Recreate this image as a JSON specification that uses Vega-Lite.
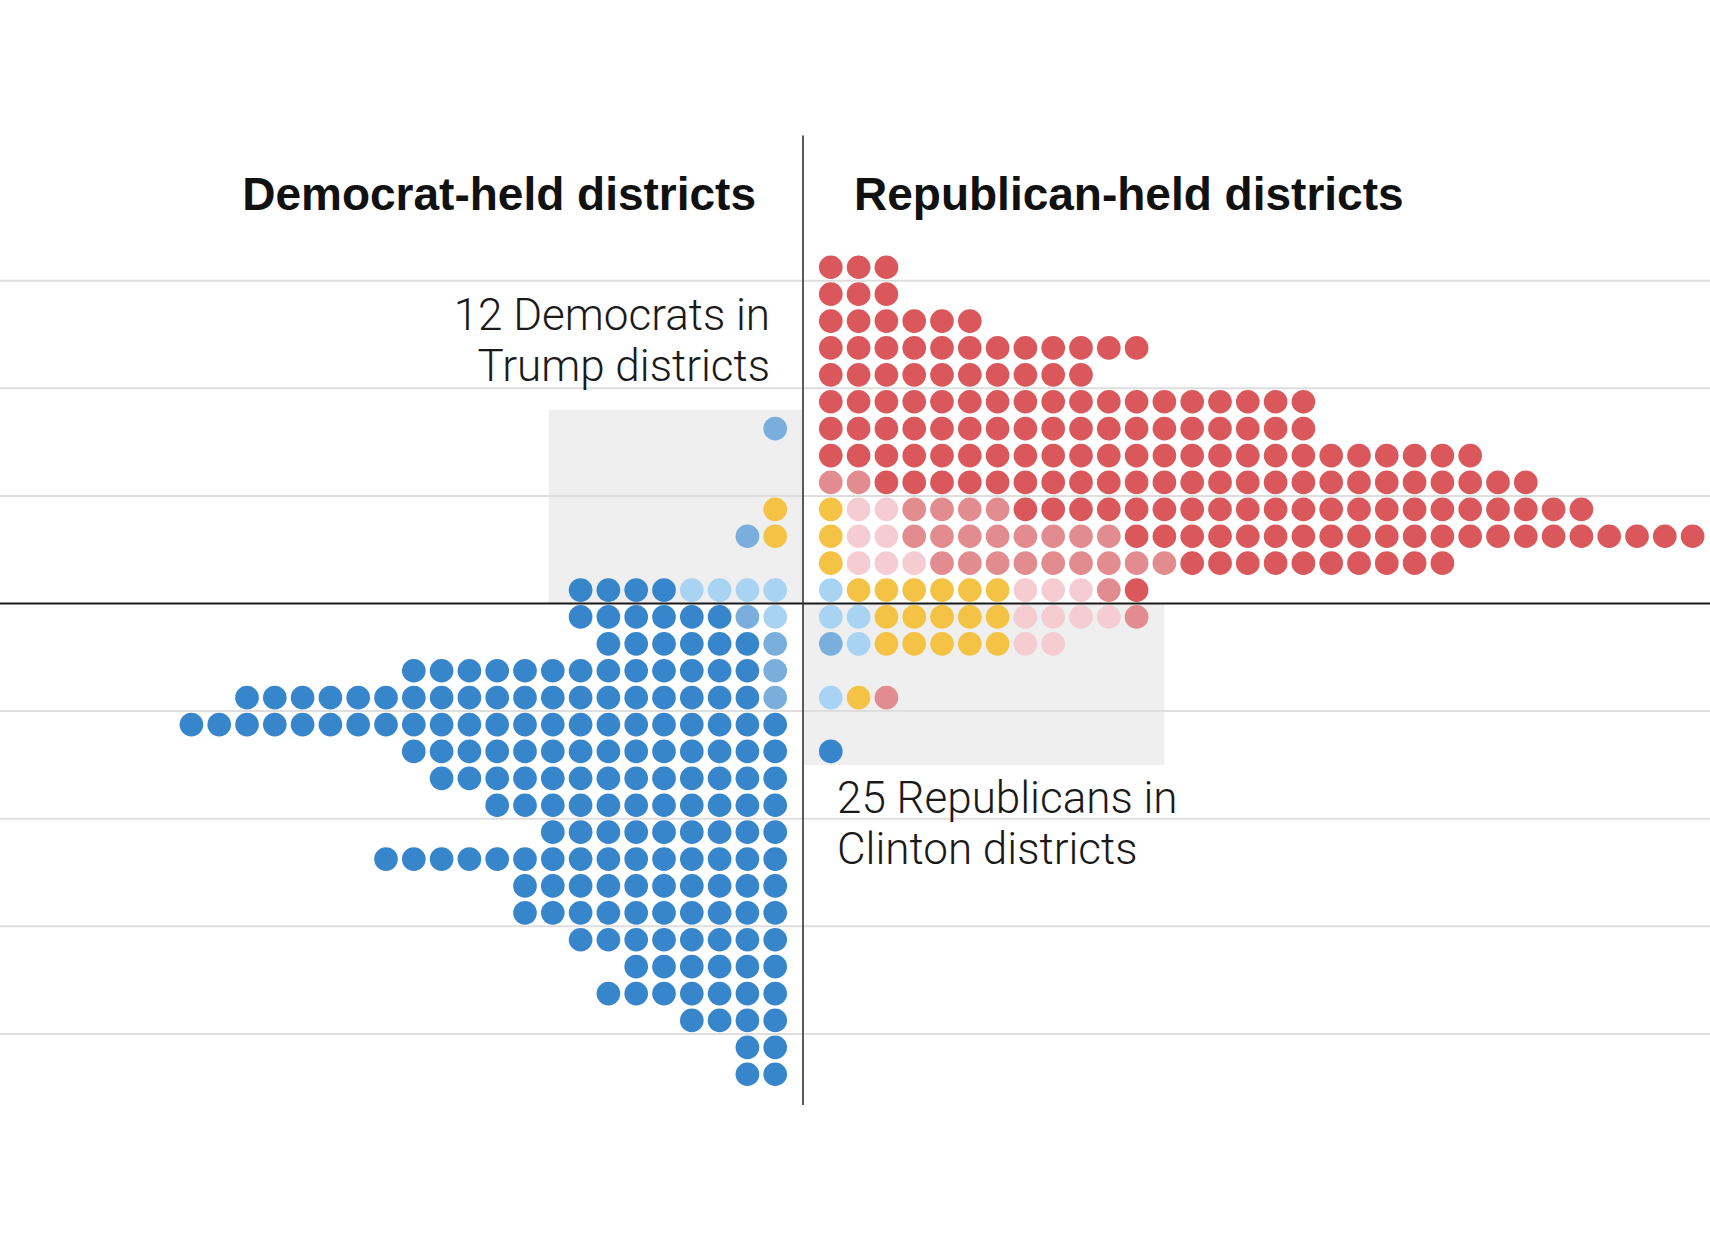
{
"$schema":"https://vega.github.io/schema/vega-lite/v6.json",
"width":1710,"height":1248,"autosize":{"type":"none"},"padding":0,"background":"white",
"config":{"view":{"stroke":null}},
"datasets":{
"one":[{}],
"boxes":[{"x1":-9.15,"x2":0,"y1":0,"y2":18},{"x1":0,"x2":13,"y1":0,"y2":-15}],
"grid":[{"g":30},{"g":20},{"g":10},{"g":-10},{"g":-20},{"g":-30},{"g":-40}],
"dots":[
{"m":31.25,"c":1,"r":"SR"},{"m":31.25,"c":2,"r":"SR"},{"m":31.25,"c":3,"r":"SR"},
{"m":28.75,"c":1,"r":"SR"},{"m":28.75,"c":2,"r":"SR"},{"m":28.75,"c":3,"r":"SR"},
{"m":26.25,"c":1,"r":"SR"},{"m":26.25,"c":2,"r":"SR"},{"m":26.25,"c":3,"r":"SR"},{"m":26.25,"c":4,"r":"SR"},{"m":26.25,"c":5,"r":"SR"},{"m":26.25,"c":6,"r":"SR"},
{"m":23.75,"c":1,"r":"SR"},{"m":23.75,"c":2,"r":"SR"},{"m":23.75,"c":3,"r":"SR"},{"m":23.75,"c":4,"r":"SR"},{"m":23.75,"c":5,"r":"SR"},{"m":23.75,"c":6,"r":"SR"},{"m":23.75,"c":7,"r":"SR"},{"m":23.75,"c":8,"r":"SR"},{"m":23.75,"c":9,"r":"SR"},{"m":23.75,"c":10,"r":"SR"},{"m":23.75,"c":11,"r":"SR"},{"m":23.75,"c":12,"r":"SR"},
{"m":21.25,"c":1,"r":"SR"},{"m":21.25,"c":2,"r":"SR"},{"m":21.25,"c":3,"r":"SR"},{"m":21.25,"c":4,"r":"SR"},{"m":21.25,"c":5,"r":"SR"},{"m":21.25,"c":6,"r":"SR"},{"m":21.25,"c":7,"r":"SR"},{"m":21.25,"c":8,"r":"SR"},{"m":21.25,"c":9,"r":"SR"},{"m":21.25,"c":10,"r":"SR"},
{"m":18.75,"c":1,"r":"SR"},{"m":18.75,"c":2,"r":"SR"},{"m":18.75,"c":3,"r":"SR"},{"m":18.75,"c":4,"r":"SR"},{"m":18.75,"c":5,"r":"SR"},{"m":18.75,"c":6,"r":"SR"},{"m":18.75,"c":7,"r":"SR"},{"m":18.75,"c":8,"r":"SR"},{"m":18.75,"c":9,"r":"SR"},{"m":18.75,"c":10,"r":"SR"},{"m":18.75,"c":11,"r":"SR"},{"m":18.75,"c":12,"r":"SR"},{"m":18.75,"c":13,"r":"SR"},{"m":18.75,"c":14,"r":"SR"},{"m":18.75,"c":15,"r":"SR"},{"m":18.75,"c":16,"r":"SR"},{"m":18.75,"c":17,"r":"SR"},{"m":18.75,"c":18,"r":"SR"},
{"m":16.25,"c":1,"r":"SR"},{"m":16.25,"c":2,"r":"SR"},{"m":16.25,"c":3,"r":"SR"},{"m":16.25,"c":4,"r":"SR"},{"m":16.25,"c":5,"r":"SR"},{"m":16.25,"c":6,"r":"SR"},{"m":16.25,"c":7,"r":"SR"},{"m":16.25,"c":8,"r":"SR"},{"m":16.25,"c":9,"r":"SR"},{"m":16.25,"c":10,"r":"SR"},{"m":16.25,"c":11,"r":"SR"},{"m":16.25,"c":12,"r":"SR"},{"m":16.25,"c":13,"r":"SR"},{"m":16.25,"c":14,"r":"SR"},{"m":16.25,"c":15,"r":"SR"},{"m":16.25,"c":16,"r":"SR"},{"m":16.25,"c":17,"r":"SR"},{"m":16.25,"c":18,"r":"SR"},
{"m":13.75,"c":1,"r":"SR"},{"m":13.75,"c":2,"r":"SR"},{"m":13.75,"c":3,"r":"SR"},{"m":13.75,"c":4,"r":"SR"},{"m":13.75,"c":5,"r":"SR"},{"m":13.75,"c":6,"r":"SR"},{"m":13.75,"c":7,"r":"SR"},{"m":13.75,"c":8,"r":"SR"},{"m":13.75,"c":9,"r":"SR"},{"m":13.75,"c":10,"r":"SR"},{"m":13.75,"c":11,"r":"SR"},{"m":13.75,"c":12,"r":"SR"},{"m":13.75,"c":13,"r":"SR"},{"m":13.75,"c":14,"r":"SR"},{"m":13.75,"c":15,"r":"SR"},{"m":13.75,"c":16,"r":"SR"},{"m":13.75,"c":17,"r":"SR"},{"m":13.75,"c":18,"r":"SR"},{"m":13.75,"c":19,"r":"SR"},{"m":13.75,"c":20,"r":"SR"},{"m":13.75,"c":21,"r":"SR"},{"m":13.75,"c":22,"r":"SR"},{"m":13.75,"c":23,"r":"SR"},{"m":13.75,"c":24,"r":"SR"},
{"m":11.25,"c":1,"r":"KR"},{"m":11.25,"c":2,"r":"KR"},{"m":11.25,"c":3,"r":"SR"},{"m":11.25,"c":4,"r":"SR"},{"m":11.25,"c":5,"r":"SR"},{"m":11.25,"c":6,"r":"SR"},{"m":11.25,"c":7,"r":"SR"},{"m":11.25,"c":8,"r":"SR"},{"m":11.25,"c":9,"r":"SR"},{"m":11.25,"c":10,"r":"SR"},{"m":11.25,"c":11,"r":"SR"},{"m":11.25,"c":12,"r":"SR"},{"m":11.25,"c":13,"r":"SR"},{"m":11.25,"c":14,"r":"SR"},{"m":11.25,"c":15,"r":"SR"},{"m":11.25,"c":16,"r":"SR"},{"m":11.25,"c":17,"r":"SR"},{"m":11.25,"c":18,"r":"SR"},{"m":11.25,"c":19,"r":"SR"},{"m":11.25,"c":20,"r":"SR"},{"m":11.25,"c":21,"r":"SR"},{"m":11.25,"c":22,"r":"SR"},{"m":11.25,"c":23,"r":"SR"},{"m":11.25,"c":24,"r":"SR"},{"m":11.25,"c":25,"r":"SR"},{"m":11.25,"c":26,"r":"SR"},
{"m":8.75,"c":1,"r":"TU"},{"m":8.75,"c":2,"r":"NR"},{"m":8.75,"c":3,"r":"NR"},{"m":8.75,"c":4,"r":"KR"},{"m":8.75,"c":5,"r":"KR"},{"m":8.75,"c":6,"r":"KR"},{"m":8.75,"c":7,"r":"KR"},{"m":8.75,"c":8,"r":"SR"},{"m":8.75,"c":9,"r":"SR"},{"m":8.75,"c":10,"r":"SR"},{"m":8.75,"c":11,"r":"SR"},{"m":8.75,"c":12,"r":"SR"},{"m":8.75,"c":13,"r":"SR"},{"m":8.75,"c":14,"r":"SR"},{"m":8.75,"c":15,"r":"SR"},{"m":8.75,"c":16,"r":"SR"},{"m":8.75,"c":17,"r":"SR"},{"m":8.75,"c":18,"r":"SR"},{"m":8.75,"c":19,"r":"SR"},{"m":8.75,"c":20,"r":"SR"},{"m":8.75,"c":21,"r":"SR"},{"m":8.75,"c":22,"r":"SR"},{"m":8.75,"c":23,"r":"SR"},{"m":8.75,"c":24,"r":"SR"},{"m":8.75,"c":25,"r":"SR"},{"m":8.75,"c":26,"r":"SR"},{"m":8.75,"c":27,"r":"SR"},{"m":8.75,"c":28,"r":"SR"},
{"m":6.25,"c":1,"r":"TU"},{"m":6.25,"c":2,"r":"NR"},{"m":6.25,"c":3,"r":"NR"},{"m":6.25,"c":4,"r":"KR"},{"m":6.25,"c":5,"r":"KR"},{"m":6.25,"c":6,"r":"KR"},{"m":6.25,"c":7,"r":"KR"},{"m":6.25,"c":8,"r":"KR"},{"m":6.25,"c":9,"r":"KR"},{"m":6.25,"c":10,"r":"KR"},{"m":6.25,"c":11,"r":"KR"},{"m":6.25,"c":12,"r":"SR"},{"m":6.25,"c":13,"r":"SR"},{"m":6.25,"c":14,"r":"SR"},{"m":6.25,"c":15,"r":"SR"},{"m":6.25,"c":16,"r":"SR"},{"m":6.25,"c":17,"r":"SR"},{"m":6.25,"c":18,"r":"SR"},{"m":6.25,"c":19,"r":"SR"},{"m":6.25,"c":20,"r":"SR"},{"m":6.25,"c":21,"r":"SR"},{"m":6.25,"c":22,"r":"SR"},{"m":6.25,"c":23,"r":"SR"},{"m":6.25,"c":24,"r":"SR"},{"m":6.25,"c":25,"r":"SR"},{"m":6.25,"c":26,"r":"SR"},{"m":6.25,"c":27,"r":"SR"},{"m":6.25,"c":28,"r":"SR"},{"m":6.25,"c":29,"r":"SR"},{"m":6.25,"c":30,"r":"SR"},{"m":6.25,"c":31,"r":"SR"},{"m":6.25,"c":32,"r":"SR"},
{"m":3.75,"c":1,"r":"TU"},{"m":3.75,"c":2,"r":"NR"},{"m":3.75,"c":3,"r":"NR"},{"m":3.75,"c":4,"r":"NR"},{"m":3.75,"c":5,"r":"KR"},{"m":3.75,"c":6,"r":"KR"},{"m":3.75,"c":7,"r":"KR"},{"m":3.75,"c":8,"r":"KR"},{"m":3.75,"c":9,"r":"KR"},{"m":3.75,"c":10,"r":"KR"},{"m":3.75,"c":11,"r":"KR"},{"m":3.75,"c":12,"r":"KR"},{"m":3.75,"c":13,"r":"KR"},{"m":3.75,"c":14,"r":"SR"},{"m":3.75,"c":15,"r":"SR"},{"m":3.75,"c":16,"r":"SR"},{"m":3.75,"c":17,"r":"SR"},{"m":3.75,"c":18,"r":"SR"},{"m":3.75,"c":19,"r":"SR"},{"m":3.75,"c":20,"r":"SR"},{"m":3.75,"c":21,"r":"SR"},{"m":3.75,"c":22,"r":"SR"},{"m":3.75,"c":23,"r":"SR"},
{"m":1.25,"c":1,"r":"ND"},{"m":1.25,"c":2,"r":"TU"},{"m":1.25,"c":3,"r":"TU"},{"m":1.25,"c":4,"r":"TU"},{"m":1.25,"c":5,"r":"TU"},{"m":1.25,"c":6,"r":"TU"},{"m":1.25,"c":7,"r":"TU"},{"m":1.25,"c":8,"r":"NR"},{"m":1.25,"c":9,"r":"NR"},{"m":1.25,"c":10,"r":"NR"},{"m":1.25,"c":11,"r":"KR"},{"m":1.25,"c":12,"r":"SR"},
{"m":-1.25,"c":1,"r":"ND"},{"m":-1.25,"c":2,"r":"ND"},{"m":-1.25,"c":3,"r":"TU"},{"m":-1.25,"c":4,"r":"TU"},{"m":-1.25,"c":5,"r":"TU"},{"m":-1.25,"c":6,"r":"TU"},{"m":-1.25,"c":7,"r":"TU"},{"m":-1.25,"c":8,"r":"NR"},{"m":-1.25,"c":9,"r":"NR"},{"m":-1.25,"c":10,"r":"NR"},{"m":-1.25,"c":11,"r":"NR"},{"m":-1.25,"c":12,"r":"KR"},
{"m":-3.75,"c":1,"r":"KD"},{"m":-3.75,"c":2,"r":"ND"},{"m":-3.75,"c":3,"r":"TU"},{"m":-3.75,"c":4,"r":"TU"},{"m":-3.75,"c":5,"r":"TU"},{"m":-3.75,"c":6,"r":"TU"},{"m":-3.75,"c":7,"r":"TU"},{"m":-3.75,"c":8,"r":"NR"},{"m":-3.75,"c":9,"r":"NR"},
{"m":-8.75,"c":1,"r":"ND"},{"m":-8.75,"c":2,"r":"TU"},{"m":-8.75,"c":3,"r":"KR"},
{"m":-13.75,"c":1,"r":"SD"},
{"m":16.25,"c":-1,"r":"KD"},
{"m":8.75,"c":-1,"r":"TU"},
{"m":6.25,"c":-1,"r":"TU"},{"m":6.25,"c":-2,"r":"KD"},
{"m":1.25,"c":-1,"r":"ND"},{"m":1.25,"c":-2,"r":"ND"},{"m":1.25,"c":-3,"r":"ND"},{"m":1.25,"c":-4,"r":"ND"},{"m":1.25,"c":-5,"r":"SD"},{"m":1.25,"c":-6,"r":"SD"},{"m":1.25,"c":-7,"r":"SD"},{"m":1.25,"c":-8,"r":"SD"},
{"m":-1.25,"c":-1,"r":"ND"},{"m":-1.25,"c":-2,"r":"KD"},{"m":-1.25,"c":-3,"r":"SD"},{"m":-1.25,"c":-4,"r":"SD"},{"m":-1.25,"c":-5,"r":"SD"},{"m":-1.25,"c":-6,"r":"SD"},{"m":-1.25,"c":-7,"r":"SD"},{"m":-1.25,"c":-8,"r":"SD"},
{"m":-3.75,"c":-1,"r":"KD"},{"m":-3.75,"c":-2,"r":"SD"},{"m":-3.75,"c":-3,"r":"SD"},{"m":-3.75,"c":-4,"r":"SD"},{"m":-3.75,"c":-5,"r":"SD"},{"m":-3.75,"c":-6,"r":"SD"},{"m":-3.75,"c":-7,"r":"SD"},
{"m":-6.25,"c":-1,"r":"KD"},{"m":-6.25,"c":-2,"r":"SD"},{"m":-6.25,"c":-3,"r":"SD"},{"m":-6.25,"c":-4,"r":"SD"},{"m":-6.25,"c":-5,"r":"SD"},{"m":-6.25,"c":-6,"r":"SD"},{"m":-6.25,"c":-7,"r":"SD"},{"m":-6.25,"c":-8,"r":"SD"},{"m":-6.25,"c":-9,"r":"SD"},{"m":-6.25,"c":-10,"r":"SD"},{"m":-6.25,"c":-11,"r":"SD"},{"m":-6.25,"c":-12,"r":"SD"},{"m":-6.25,"c":-13,"r":"SD"},{"m":-6.25,"c":-14,"r":"SD"},
{"m":-8.75,"c":-1,"r":"KD"},{"m":-8.75,"c":-2,"r":"SD"},{"m":-8.75,"c":-3,"r":"SD"},{"m":-8.75,"c":-4,"r":"SD"},{"m":-8.75,"c":-5,"r":"SD"},{"m":-8.75,"c":-6,"r":"SD"},{"m":-8.75,"c":-7,"r":"SD"},{"m":-8.75,"c":-8,"r":"SD"},{"m":-8.75,"c":-9,"r":"SD"},{"m":-8.75,"c":-10,"r":"SD"},{"m":-8.75,"c":-11,"r":"SD"},{"m":-8.75,"c":-12,"r":"SD"},{"m":-8.75,"c":-13,"r":"SD"},{"m":-8.75,"c":-14,"r":"SD"},{"m":-8.75,"c":-15,"r":"SD"},{"m":-8.75,"c":-16,"r":"SD"},{"m":-8.75,"c":-17,"r":"SD"},{"m":-8.75,"c":-18,"r":"SD"},{"m":-8.75,"c":-19,"r":"SD"},{"m":-8.75,"c":-20,"r":"SD"},
{"m":-11.25,"c":-1,"r":"SD"},{"m":-11.25,"c":-2,"r":"SD"},{"m":-11.25,"c":-3,"r":"SD"},{"m":-11.25,"c":-4,"r":"SD"},{"m":-11.25,"c":-5,"r":"SD"},{"m":-11.25,"c":-6,"r":"SD"},{"m":-11.25,"c":-7,"r":"SD"},{"m":-11.25,"c":-8,"r":"SD"},{"m":-11.25,"c":-9,"r":"SD"},{"m":-11.25,"c":-10,"r":"SD"},{"m":-11.25,"c":-11,"r":"SD"},{"m":-11.25,"c":-12,"r":"SD"},{"m":-11.25,"c":-13,"r":"SD"},{"m":-11.25,"c":-14,"r":"SD"},{"m":-11.25,"c":-15,"r":"SD"},{"m":-11.25,"c":-16,"r":"SD"},{"m":-11.25,"c":-17,"r":"SD"},{"m":-11.25,"c":-18,"r":"SD"},{"m":-11.25,"c":-19,"r":"SD"},{"m":-11.25,"c":-20,"r":"SD"},{"m":-11.25,"c":-21,"r":"SD"},{"m":-11.25,"c":-22,"r":"SD"},
{"m":-13.75,"c":-1,"r":"SD"},{"m":-13.75,"c":-2,"r":"SD"},{"m":-13.75,"c":-3,"r":"SD"},{"m":-13.75,"c":-4,"r":"SD"},{"m":-13.75,"c":-5,"r":"SD"},{"m":-13.75,"c":-6,"r":"SD"},{"m":-13.75,"c":-7,"r":"SD"},{"m":-13.75,"c":-8,"r":"SD"},{"m":-13.75,"c":-9,"r":"SD"},{"m":-13.75,"c":-10,"r":"SD"},{"m":-13.75,"c":-11,"r":"SD"},{"m":-13.75,"c":-12,"r":"SD"},{"m":-13.75,"c":-13,"r":"SD"},{"m":-13.75,"c":-14,"r":"SD"},
{"m":-16.25,"c":-1,"r":"SD"},{"m":-16.25,"c":-2,"r":"SD"},{"m":-16.25,"c":-3,"r":"SD"},{"m":-16.25,"c":-4,"r":"SD"},{"m":-16.25,"c":-5,"r":"SD"},{"m":-16.25,"c":-6,"r":"SD"},{"m":-16.25,"c":-7,"r":"SD"},{"m":-16.25,"c":-8,"r":"SD"},{"m":-16.25,"c":-9,"r":"SD"},{"m":-16.25,"c":-10,"r":"SD"},{"m":-16.25,"c":-11,"r":"SD"},{"m":-16.25,"c":-12,"r":"SD"},{"m":-16.25,"c":-13,"r":"SD"},
{"m":-18.75,"c":-1,"r":"SD"},{"m":-18.75,"c":-2,"r":"SD"},{"m":-18.75,"c":-3,"r":"SD"},{"m":-18.75,"c":-4,"r":"SD"},{"m":-18.75,"c":-5,"r":"SD"},{"m":-18.75,"c":-6,"r":"SD"},{"m":-18.75,"c":-7,"r":"SD"},{"m":-18.75,"c":-8,"r":"SD"},{"m":-18.75,"c":-9,"r":"SD"},{"m":-18.75,"c":-10,"r":"SD"},{"m":-18.75,"c":-11,"r":"SD"},
{"m":-21.25,"c":-1,"r":"SD"},{"m":-21.25,"c":-2,"r":"SD"},{"m":-21.25,"c":-3,"r":"SD"},{"m":-21.25,"c":-4,"r":"SD"},{"m":-21.25,"c":-5,"r":"SD"},{"m":-21.25,"c":-6,"r":"SD"},{"m":-21.25,"c":-7,"r":"SD"},{"m":-21.25,"c":-8,"r":"SD"},{"m":-21.25,"c":-9,"r":"SD"},
{"m":-23.75,"c":-1,"r":"SD"},{"m":-23.75,"c":-2,"r":"SD"},{"m":-23.75,"c":-3,"r":"SD"},{"m":-23.75,"c":-4,"r":"SD"},{"m":-23.75,"c":-5,"r":"SD"},{"m":-23.75,"c":-6,"r":"SD"},{"m":-23.75,"c":-7,"r":"SD"},{"m":-23.75,"c":-8,"r":"SD"},{"m":-23.75,"c":-9,"r":"SD"},{"m":-23.75,"c":-10,"r":"SD"},{"m":-23.75,"c":-11,"r":"SD"},{"m":-23.75,"c":-12,"r":"SD"},{"m":-23.75,"c":-13,"r":"SD"},{"m":-23.75,"c":-14,"r":"SD"},{"m":-23.75,"c":-15,"r":"SD"},
{"m":-26.25,"c":-1,"r":"SD"},{"m":-26.25,"c":-2,"r":"SD"},{"m":-26.25,"c":-3,"r":"SD"},{"m":-26.25,"c":-4,"r":"SD"},{"m":-26.25,"c":-5,"r":"SD"},{"m":-26.25,"c":-6,"r":"SD"},{"m":-26.25,"c":-7,"r":"SD"},{"m":-26.25,"c":-8,"r":"SD"},{"m":-26.25,"c":-9,"r":"SD"},{"m":-26.25,"c":-10,"r":"SD"},
{"m":-28.75,"c":-1,"r":"SD"},{"m":-28.75,"c":-2,"r":"SD"},{"m":-28.75,"c":-3,"r":"SD"},{"m":-28.75,"c":-4,"r":"SD"},{"m":-28.75,"c":-5,"r":"SD"},{"m":-28.75,"c":-6,"r":"SD"},{"m":-28.75,"c":-7,"r":"SD"},{"m":-28.75,"c":-8,"r":"SD"},{"m":-28.75,"c":-9,"r":"SD"},{"m":-28.75,"c":-10,"r":"SD"},
{"m":-31.25,"c":-1,"r":"SD"},{"m":-31.25,"c":-2,"r":"SD"},{"m":-31.25,"c":-3,"r":"SD"},{"m":-31.25,"c":-4,"r":"SD"},{"m":-31.25,"c":-5,"r":"SD"},{"m":-31.25,"c":-6,"r":"SD"},{"m":-31.25,"c":-7,"r":"SD"},{"m":-31.25,"c":-8,"r":"SD"},
{"m":-33.75,"c":-1,"r":"SD"},{"m":-33.75,"c":-2,"r":"SD"},{"m":-33.75,"c":-3,"r":"SD"},{"m":-33.75,"c":-4,"r":"SD"},{"m":-33.75,"c":-5,"r":"SD"},{"m":-33.75,"c":-6,"r":"SD"},
{"m":-36.25,"c":-1,"r":"SD"},{"m":-36.25,"c":-2,"r":"SD"},{"m":-36.25,"c":-3,"r":"SD"},{"m":-36.25,"c":-4,"r":"SD"},{"m":-36.25,"c":-5,"r":"SD"},{"m":-36.25,"c":-6,"r":"SD"},{"m":-36.25,"c":-7,"r":"SD"},
{"m":-38.75,"c":-1,"r":"SD"},{"m":-38.75,"c":-2,"r":"SD"},{"m":-38.75,"c":-3,"r":"SD"},{"m":-38.75,"c":-4,"r":"SD"},
{"m":-41.25,"c":-1,"r":"SD"},{"m":-41.25,"c":-2,"r":"SD"},
{"m":-43.75,"c":-1,"r":"SD"},{"m":-43.75,"c":-2,"r":"SD"}
]},
"layer":[
{"data":{"name":"boxes"},"mark":{"type":"rect","fill":"#efefef"},
 "encoding":{"x":{"field":"x1","type":"quantitative","scale":{"domain":[-28.885,32.626],"nice":false,"zero":false},"axis":null},"x2":{"field":"x2"},
 "y":{"field":"y1","type":"quantitative","scale":{"domain":[-59.898,56.087],"nice":false,"zero":false},"axis":null},"y2":{"field":"y2"}}},
{"data":{"name":"grid"},"mark":{"type":"rule","color":"#dedede","strokeWidth":2},
 "encoding":{"y":{"field":"g","type":"quantitative","scale":{"domain":[-59.898,56.087],"nice":false,"zero":false},"axis":null}}},
{"data":{"name":"one"},"mark":{"type":"rule","color":"#1a1a1a","strokeWidth":2},
 "encoding":{"y":{"datum":0,"type":"quantitative","scale":{"domain":[-59.898,56.087],"nice":false,"zero":false},"axis":null}}},
{"data":{"name":"one"},"mark":{"type":"rule","color":"#333333","strokeWidth":1.6},
 "encoding":{"x":{"datum":0,"type":"quantitative","scale":{"domain":[-28.885,32.626],"nice":false,"zero":false},"axis":null},
 "y":{"datum":43.5,"type":"quantitative","scale":{"domain":[-59.898,56.087],"nice":false,"zero":false},"axis":null},"y2":{"datum":-46.6}}},
{"data":{"name":"dots"},"mark":{"type":"circle","size":560,"opacity":1},
 "encoding":{"x":{"field":"c","type":"quantitative","scale":{"domain":[-28.885,32.626],"nice":false,"zero":false},"axis":null},
 "y":{"field":"m","type":"quantitative","scale":{"domain":[-59.898,56.087],"nice":false,"zero":false},"axis":null},
 "color":{"field":"r","type":"nominal","legend":null,"scale":{"domain":["SD","KD","ND","TU","NR","KR","SR"],"range":["#3786cb","#79aedd","#a9d3f3","#f4c244","#f5ccd2","#e38c90","#da585b"]}}}},
{"data":{"name":"one"},"mark":{"type":"text","text":"Democrat-held districts","align":"right","baseline":"alphabetic","font":"Liberation Sans","fontWeight":"bold","fontSize":46,"color":"#111111"},
 "encoding":{"x":{"datum":-1.69,"type":"quantitative","scale":{"domain":[-28.885,32.626],"nice":false,"zero":false},"axis":null},
 "y":{"datum":36.57,"type":"quantitative","scale":{"domain":[-59.898,56.087],"nice":false,"zero":false},"axis":null}}},
{"data":{"name":"one"},"mark":{"type":"text","text":"Republican-held districts","align":"left","baseline":"alphabetic","font":"Liberation Sans","fontWeight":"bold","fontSize":46,"color":"#111111"},
 "encoding":{"x":{"datum":1.835,"type":"quantitative","scale":{"domain":[-28.885,32.626],"nice":false,"zero":false},"axis":null},
 "y":{"datum":36.57,"type":"quantitative","scale":{"domain":[-59.898,56.087],"nice":false,"zero":false},"axis":null}}},
{"data":{"name":"one"},"mark":{"type":"text","text":["12 Democrats in","Trump districts"],"align":"right","baseline":"alphabetic","font":"Roboto","fontWeight":300,"fontSize":44,"lineHeight":51,"color":"#1a1a1a"},
 "encoding":{"x":{"datum":-1.187,"type":"quantitative","scale":{"domain":[-28.885,32.626],"nice":false,"zero":false},"axis":null},
 "y":{"datum":25.42,"type":"quantitative","scale":{"domain":[-59.898,56.087],"nice":false,"zero":false},"axis":null}}},
{"data":{"name":"one"},"mark":{"type":"text","text":["25 Republicans in","Clinton districts"],"align":"left","baseline":"alphabetic","font":"Roboto","fontWeight":300,"fontSize":44,"lineHeight":51,"color":"#1a1a1a"},
 "encoding":{"x":{"datum":1.223,"type":"quantitative","scale":{"domain":[-28.885,32.626],"nice":false,"zero":false},"axis":null},
 "y":{"datum":-19.47,"type":"quantitative","scale":{"domain":[-59.898,56.087],"nice":false,"zero":false},"axis":null}}}
]
}
